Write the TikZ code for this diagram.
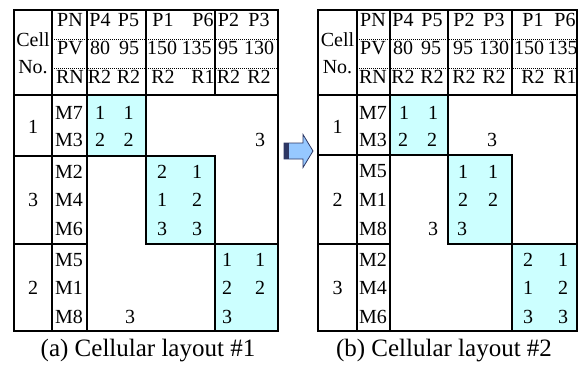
\documentclass[tikz,border=0pt]{standalone}
\usepackage{fontspec}
\setmainfont{Liberation Serif}
\definecolor{cellcyan}{RGB}{204,255,255}
\definecolor{arrowblue}{RGB}{150,200,255}
\definecolor{arrowdark}{RGB}{45,55,100}
\begin{document}
\begin{tikzpicture}[x=1pt,y=-1pt,
  thickline/.style={line width=2.6pt},
  thinline/.style={line width=1.6pt},
  dotline/.style={line width=0.9pt, dash pattern=on 1pt off 1pt},
  blockfill/.style={fill=cellcyan},
  tx/.style={inner sep=0pt, font=\fontsize{20}{24}\selectfont},
  captext/.style={inner sep=0pt, anchor=base, font=\fontsize{25}{30}\selectfont}]
\useasboundingbox (0,0) rectangle (585,372);

% ---------- left table ----------
\fill[blockfill] (87,95) rectangle (146,156);
\fill[blockfill] (146,156) rectangle (215,244);
\fill[blockfill] (215,244) rectangle (278,331);
\draw[dotline] (52,39) -- (278,39);
\draw[dotline] (52,68) -- (278,68);
\draw[thinline] (146,10) -- (146,95);
\draw[thinline] (215,10) -- (215,95);
\draw[thickline] (52,10) -- (52,331);
\draw[thickline] (87,10) -- (87,331);
\draw[thickline] (14,95) -- (278,95);
\draw[thickline] (14,156) -- (87,156);
\draw[thickline] (14,244) -- (87,244);
\draw[thickline] (87,95) rectangle (146,156);
\draw[thickline] (146,156) rectangle (215,244);
\draw[thickline] (215,244) rectangle (278,331);
\draw[thickline] (14,10) rectangle (278,331);

\foreach \n/\x/\y/\t in {
  Lcell/33/40/Cell, Lno/33/67.5/No.,
  Lpn/70/20/PN, Lpv/70/48/PV, Lrn/70/77/RN,
  La1/100/20/P4, La2/128.5/20/P5, La3/163/20/P1, La4/203/20/P6, La5/228.5/20/P2, La6/259/20/P3,
  Lb1/100/48/80, Lb2/129/48/95, Lb3/162/48/150, Lb4/196.5/48/135, Lb5/228/48/95, Lb6/259/48/130,
  Lc1/99.5/77/R2, Lc2/128.5/77/R2, Lc3/163/77/R2, Lc4/203/77/R1, Lc5/228.5/77/R2, Lc6/259/77/R2,
  Lk1/33/127/1, Lk2/33/200/3, Lk3/33/288/2,
  Lm1/69/112.7/M7, Lm2/69/140/M3, Lm3/69/171.5/M2, Lm4/69/200/M4, Lm5/69/228.5/M6,
  Lm6/69/260/M5, Lm7/69/288/M1, Lm8/69/316.5/M8,
  Lv1/100/112.7/1, Lv2/128.5/112.7/1,
  Lv3/100/140/2, Lv4/128.5/140/2, Lv5/260/140/3,
  Lv6/162/171.5/2, Lv7/197/171.5/1,
  Lv8/162/200/1, Lv9/197/200/2,
  Lv10/162/228.5/3, Lv11/197/228.5/3,
  Lv12/227/260/1, Lv13/260/260/1,
  Lv14/227/288/2, Lv15/260/288/2,
  Lv16/130/316.5/3, Lv17/227/316.5/3}
  \node[tx] (\n) at (\x,\y) {\t};

% ---------- arrow ----------
\filldraw[fill=arrowblue, draw=arrowdark, line width=0.8pt]
  (284,143) -- (303,143) -- (303,134.5) -- (313,151) -- (303,167.5) -- (303,159) -- (284,159) -- cycle;
\fill[arrowdark] (284,143) rectangle (288.5,159);

% ---------- right table ----------
\fill[blockfill] (390,95) rectangle (448,155);
\fill[blockfill] (448,155) rectangle (512,244);
\fill[blockfill] (512,244) rectangle (577,331);
\draw[dotline] (357,39) -- (577,39);
\draw[dotline] (357,68) -- (577,68);
\draw[thinline] (448,10) -- (448,95);
\draw[thinline] (512,10) -- (512,95);
\draw[thickline] (357,10) -- (357,331);
\draw[thickline] (390,10) -- (390,331);
\draw[thickline] (318,95) -- (577,95);
\draw[thickline] (318,155) -- (390,155);
\draw[thickline] (318,244) -- (390,244);
\draw[thickline] (390,95) rectangle (448,155);
\draw[thickline] (448,155) rectangle (512,244);
\draw[thickline] (512,244) rectangle (577,331);
\draw[thickline] (318,10) rectangle (577,331);

\foreach \n/\x/\y/\t in {
  Rcell/337.5/40/Cell, Rno/337.5/67.5/No.,
  Rpn/373/20/PN, Rpv/373/48/PV, Rrn/373/77/RN,
  Ra1/403/20/P4, Ra2/432/20/P5, Ra3/464/20/P2, Ra4/494/20/P3, Ra5/533/20/P1, Ra6/565/20/P6,
  Rb1/403/48/80, Rb2/431/48/95, Rb3/463/48/95, Rb4/494/48/130, Rb5/529/48/150, Rb6/562.5/48/135,
  Rc1/403/77/R2, Rc2/432/77/R2, Rc3/464/77/R2, Rc4/494/77/R2, Rc5/533/77/R2, Rc6/565/77/R1,
  Rk1/337.5/127/1, Rk2/337.5/200/2, Rk3/337.5/288/3,
  Rm1/373/112.7/M7, Rm2/373/140/M3, Rm3/373/171.5/M5, Rm4/373/200/M1, Rm5/373/228.5/M8,
  Rm6/373/260/M2, Rm7/373/288/M4, Rm8/373/316.5/M6,
  Rv1/404/112.7/1, Rv2/433/112.7/1,
  Rv3/403/140/2, Rv4/432/140/2, Rv5/492/140/3,
  Rv6/463/171.5/1, Rv7/493/171.5/1,
  Rv8/463/200/2, Rv9/493/200/2,
  Rv10/433/228.5/3, Rv11/462/228.5/3,
  Rv12/528/260/2, Rv13/563/260/1,
  Rv14/528/288/1, Rv15/563/288/2,
  Rv16/528/316.5/3, Rv17/563/316.5/3}
  \node[tx] (\n) at (\x,\y) {\t};

% ---------- captions ----------
\node[captext] (capa) at (148,356) {(a) Cellular layout \#1};
\node[captext] (capb) at (444,356) {(b) Cellular layout \#2};
\end{tikzpicture}
\end{document}
